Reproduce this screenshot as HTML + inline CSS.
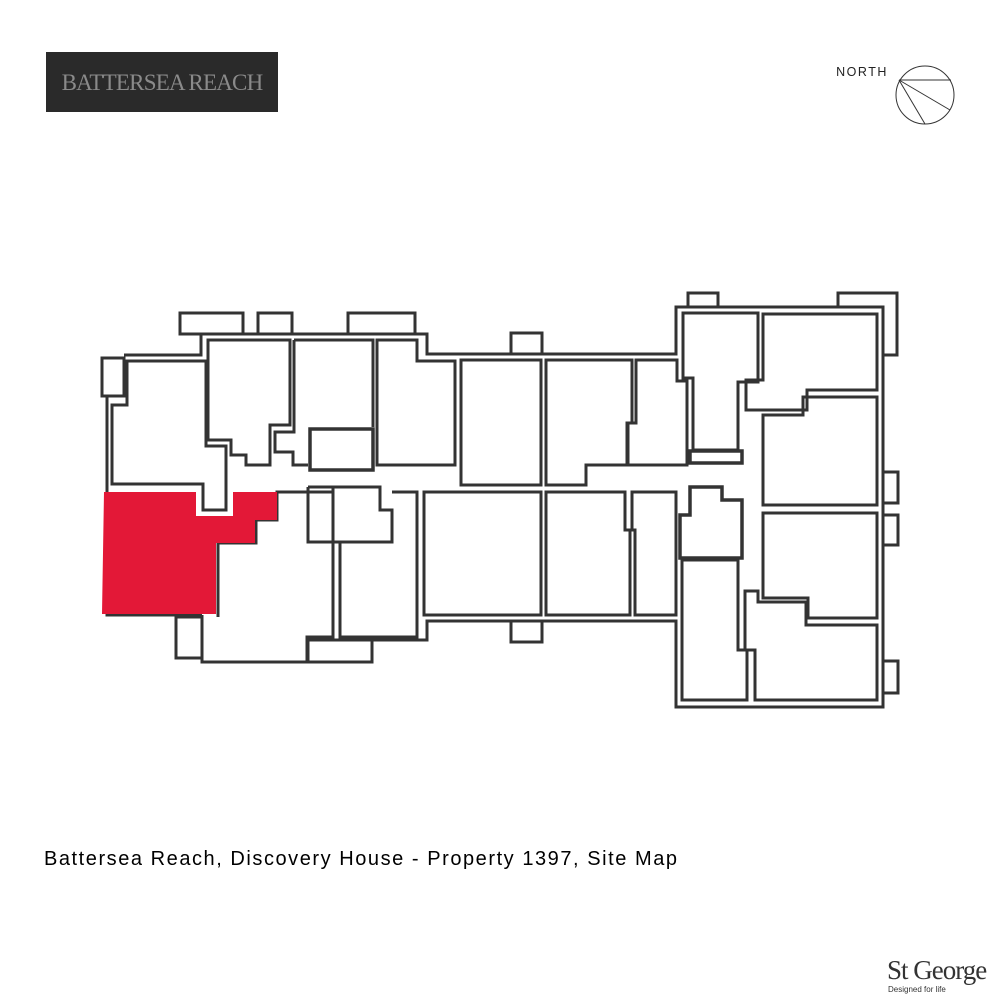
<!DOCTYPE html>
<html><head><meta charset="utf-8"><style>
html,body{margin:0;padding:0;background:#fff;width:1000px;height:1000px;overflow:hidden}
svg{position:absolute;left:0;top:0}
</style></head><body>
<svg width="1000" height="1000" viewBox="0 0 1000 1000" xmlns="http://www.w3.org/2000/svg">
<rect x="46" y="52" width="232" height="60" fill="#2a2a2a"/>
<text x="162" y="90" text-anchor="middle" font-family="Liberation Serif, serif" font-size="23" fill="#8a8a8a" letter-spacing="-0.8">BATTERSEA REACH</text>
<text x="862" y="76" text-anchor="middle" font-family="Liberation Sans, sans-serif" font-size="12.5" fill="#222" letter-spacing="1.5">NORTH</text>
<g fill="none" stroke="#333" stroke-width="1">
<circle cx="925" cy="95" r="29"/>
<line x1="899" y1="80" x2="951" y2="80"/><line x1="899" y1="80" x2="950" y2="110"/><line x1="899" y1="80" x2="925" y2="124"/>
</g>
<g fill="none" stroke="#333" stroke-width="3" stroke-linejoin="miter">
<rect x="180" y="313" width="63" height="21"/><rect x="258" y="313" width="34" height="21"/><rect x="348" y="313" width="67" height="21"/>
<rect x="511" y="333" width="31" height="21"/><rect x="688" y="293" width="30" height="14"/>
<polyline points="838,307 838,293 897,293 897,355 883,355"/>
<rect x="883" y="472" width="15" height="31"/><rect x="883" y="515" width="15" height="30"/><rect x="883" y="661" width="15" height="32"/>
<rect x="511" y="621" width="31" height="21"/>
<rect x="102" y="358" width="22" height="38"/>
<rect x="176" y="617" width="26" height="41"/>
<rect x="308" y="640" width="64" height="22"/>
<polyline points="124,355 201,355 201,334 427,334 427,354 676,354 676,307 883,307 883,707 676,707 676,621 427,621 427,640 372,640"/>
<polyline points="107,396 107,615 202,615"/>
<polyline points="202,615 202,662 307,662 307,637 333,637 333,492"/>
<polygon points="127,361 206,361 206,446 226,446 226,510 203,510 203,484 112,484 112,405 127,405"/>
<polygon points="208,340 290,340 290,425 270,425 270,465 246,465 246,455 231,455 231,440 208,440"/>
<polyline points="294,340 373,340 373,427"/>
<polyline points="294,340 294,432 275,432 275,452 293,452 293,465 308,465"/>
<rect x="310" y="429" width="63" height="41" stroke-width="3.5"/>
<polygon points="377,340 417,340 417,361 455,361 455,465 377,465"/>
<polygon points="308,487 333,487 333,542 392,542 392,510 380,510 380,487"/>
<polyline points="308,487 308,542 340,542 340,637 417,637 417,492 392,492"/>
<polyline points="218,543 256,543 256,520 277,520 277,492 333,492"/>
<polyline points="218,543 218,617"/>
<rect x="461" y="360" width="80" height="125"/>
<polygon points="546,360 632,360 632,423 627,423 627,465 586,465 586,485 546,485"/>
<polygon points="636,360 677,360 677,381 687,381 687,465 628,465 628,423 636,423"/>
<rect x="424" y="492" width="117" height="123"/>
<polygon points="546,492 625,492 625,530 630,530 630,615 546,615"/>
<polygon points="632,492 676,492 676,615 635,615 635,530 632,530"/>
<polygon points="683,313 758,313 758,382 738,382 738,450 693,450 693,378 683,378"/>
<rect x="690" y="451" width="52" height="12" stroke-width="3.5"/>
<polygon points="763,314 877,314 877,390 807,390 807,410 746,410 746,380 763,380"/>
<polygon points="803,397 877,397 877,505 763,505 763,415 803,415"/>
<polygon points="763,513 877,513 877,618 808,618 808,598 763,598 763,518"/>
<polygon points="745,591 758,591 758,602 806,602 806,625 877,625 877,700 755,700 755,650 745,650"/>
<polygon points="682,560 738,560 738,650 747,650 747,700 682,700"/>
<polygon points="690,487 722,487 722,500 742,500 742,558 680,558 680,515 690,515" stroke-width="3.5"/>
</g>
<polygon points="104,492 196,492 196,516 233,516 233,492 277,492 277,520 255,520 255,543 216,543 216,614 102,614" fill="#e31837"/>
<text x="44" y="865" font-family="Liberation Sans, sans-serif" font-size="20" fill="#000" textLength="633" lengthAdjust="spacing">Battersea Reach, Discovery House - Property 1397, Site Map</text>
<text x="887" y="979" font-family="Liberation Serif, serif" font-size="27" fill="#333" letter-spacing="-1">St George</text>
<text x="888" y="992" font-family="Liberation Sans, sans-serif" font-size="8" fill="#333">Designed for life</text>
</svg>
</body></html>
